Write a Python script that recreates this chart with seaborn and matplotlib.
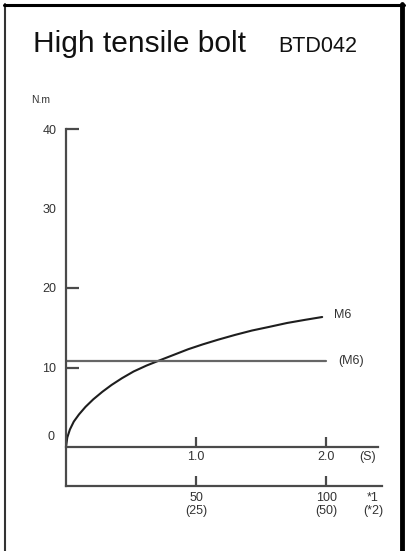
import matplotlib
matplotlib.use("Agg")
import matplotlib.pyplot as plt
from matplotlib.lines import Line2D
import pandas as pd
import seaborn as sns

sns.set_style("white")
plt.rcParams["font.family"] = ["Liberation Sans", "DejaVu Sans"]

# torque curve (time in s, torque in N.m)
time_s = [0, 0.01, 0.03, 0.06, 0.1, 0.15, 0.21, 0.28, 0.35, 0.43, 0.52, 0.62,
          0.72, 0.83, 0.94, 1.05, 1.17, 1.3, 1.43, 1.56, 1.7, 1.84, 1.97]
torque = [0, 1.2, 2.2, 3.2, 4.1, 5.05, 6.0, 6.95, 7.8, 8.65, 9.5, 10.25,
          10.9, 11.6, 12.3, 12.9, 13.5, 14.1, 14.65, 15.1, 15.6, 16.0, 16.35]
ref_time = [0, 2.0]
ref_torque = [10.8, 10.8]

y_ticks = [10, 20, 30, 40]
x_ticks = [1.0, 2.0, 2.32]
x_labels = ["1.0", "2.0", "(S)"]
sec_ticks = [50, 100, 118]
sec_labels = ["50\n(25)", "100\n(50)", "*1\n(*2)"]

df = pd.DataFrame({"t": time_s, "T": torque})
df_ref = pd.DataFrame({"t": ref_time, "T": ref_torque})

W, H = 407, 551
fig = plt.figure(figsize=(W / 100, H / 100), dpi=100)
ax = fig.add_axes([66 / W, (H - 486) / H, 316 / W, 357 / H])

axis_col = "#4a4a4a"
sns.lineplot(data=df, x="t", y="T", ax=ax, color="#1e1e1e", linewidth=1.5)
sns.lineplot(data=df_ref, x="t", y="T", ax=ax, color="#666666", linewidth=1.6)

ax.set_xlim(0, 2.43)
ax.set_ylim(-39 / 7.95, 40)
ax.set_xlabel("")
ax.set_ylabel("")

for s in ["top", "right"]:
    ax.spines[s].set_visible(False)
ax.spines["left"].set_color(axis_col)
ax.spines["left"].set_linewidth(1.6)
ax.spines["bottom"].set_position(("data", 0))
ax.spines["bottom"].set_bounds(0, 2.4)
ax.spines["bottom"].set_color(axis_col)
ax.spines["bottom"].set_linewidth(1.6)

ax.set_yticks(y_ticks)
ax.set_yticklabels([str(v) for v in y_ticks])
ax.tick_params(axis="y", left=True, direction="in", length=9.5, width=1.6, color=axis_col,
               labelsize=9, labelcolor="#333333", pad=7)
ax.yaxis.get_major_ticks()[2].tick1line.set_visible(False)

ax.set_xticks(x_ticks)
ax.set_xticklabels(x_labels)
ax.tick_params(axis="x", bottom=True, direction="in", length=7.5, width=1.6, color=axis_col,
               labelsize=9, labelcolor="#333333", pad=3)
ax.xaxis.get_major_ticks()[2].tick1line.set_visible(False)

ax.annotate("0", xy=(0, 0), xytext=(-11, 10), textcoords="offset pixels",
            ha="right", va="center", fontsize=9, color="#333333")

sec = ax.secondary_xaxis("bottom", functions=(lambda x: x * 50, lambda x: x / 50))
sec.set_xticks(sec_ticks)
sec.set_xticklabels(sec_labels)
sec.spines["bottom"].set_color(axis_col)
sec.spines["bottom"].set_linewidth(1.6)
sec.tick_params(axis="x", bottom=True, direction="in", length=7, width=1.6, color=axis_col,
                labelsize=9, labelcolor="#333333", pad=4)
sec.xaxis.get_major_ticks()[2].tick1line.set_visible(False)

ax.annotate("M6", xy=(time_s[-1], torque[-1]), xytext=(12, 2), textcoords="offset pixels",
            ha="left", va="center", fontsize=9, color="#333333")
ax.annotate("(M6)", xy=(ref_time[-1], ref_torque[-1]), xytext=(12, 0), textcoords="offset pixels",
            ha="left", va="center", fontsize=9, color="#333333")

fig.text(33 / W, 1 - 52 / H, "High tensile bolt", fontsize=21.5, va="baseline", color="#111111")
fig.text(278 / W, 1 - 52 / H, "BTD042", fontsize=15.5, va="baseline", color="#111111")
fig.text(31 / W, 1 - 100 / H, "N.m", fontsize=7.5, va="center", color="#333333")

# frame around the card
fig.add_artist(Line2D([4.5 / W, 4.5 / W], [0, 1 - 4 / H], transform=fig.transFigure,
                      color="#333333", linewidth=1.5))
fig.add_artist(Line2D([4 / W, 404 / W], [1 - 5 / H, 1 - 5 / H], transform=fig.transFigure,
                      color="black", linewidth=2.2))
fig.add_artist(Line2D([402 / W, 402 / W], [0, 1 - 3.5 / H], transform=fig.transFigure,
                      color="black", linewidth=3.5))

fig.savefig("out.png", dpi=100)
